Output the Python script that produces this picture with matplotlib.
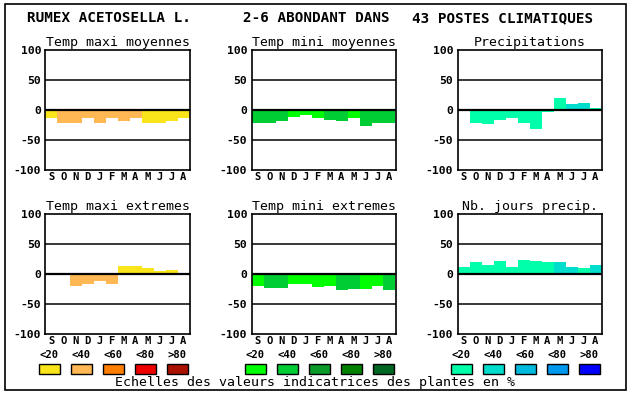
import matplotlib
matplotlib.use("Agg")
import matplotlib.pyplot as plt
from matplotlib.patches import Rectangle

W, H = 630, 394

months = ['S', 'O', 'N', 'D', 'J', 'F', 'M', 'A', 'M', 'J', 'J', 'A']
class_labels = ['<20', '<40', '<60', '<80', '>80']

warm = ['#FAE41A', '#FFB854', '#FF8000', '#EE0000', '#AA1100']
green = ['#00FF00', '#00CC33', '#0A9A2A', '#008000', '#006622']
blue = ['#00FFAA', '#00DDCC', '#00BBDD', '#0099EE', '#0000FF']

tmax_moy = [-14, -22, -22, -14, -21, -13, -18, -14, -21, -21, -18, -13]
tmax_moy_cls = [0, 1, 1, 1, 1, 1, 1, 1, 0, 0, 0, 0]
tmin_moy = [-22, -22, -18, -11, -8, -14, -16, -18, -14, -26, -22, -22]
tmin_moy_cls = [1, 1, 1, 0, 0, 0, 1, 1, 0, 1, 1, 1]
precip = [2, -22, -24, -17, -14, -22, -31, -4, 20, 10, 12, 4]
precip_cls = [0, 0, 0, 0, 0, 0, 0, 0, 0, 1, 1, 0]
tmax_ext = [0, -2, -20, -17, -12, -17, 14, 14, 10, 5, 7, 2]
tmax_ext_cls = [0, 0, 1, 1, 1, 1, 0, 0, 0, 0, 0, 0]
tmin_ext = [-20, -24, -24, -17, -17, -22, -20, -27, -25, -25, -20, -27]
tmin_ext_cls = [0, 1, 1, 0, 0, 0, 0, 1, 1, 0, 0, 1]
jours = [12, 20, 15, 22, 12, 24, 22, 20, 20, 12, 10, 15]
jours_cls = [0, 0, 0, 0, 0, 0, 0, 0, 1, 1, 0, 1]

panels = [
    ('Temp maxi moyennes', tmax_moy, tmax_moy_cls, warm, 45.5, 50),
    ('Temp mini moyennes', tmin_moy, tmin_moy_cls, green, 251.5, 50),
    ('Precipitations', precip, precip_cls, blue, 457.5, 50),
    ('Temp maxi extremes', tmax_ext, tmax_ext_cls, warm, 45.5, 214),
    ('Temp mini extremes', tmin_ext, tmin_ext_cls, green, 251.5, 214),
    ('Nb. jours precip.', jours, jours_cls, blue, 457.5, 214),
]

MONO = 'DejaVu Sans Mono'

fig = plt.figure(figsize=(W / 100, H / 100), dpi=100)


def fx(px):
    return px / W


def fy(py):
    return 1 - py / H


for title, vals, cls, pal, left, top in panels:
    ax = fig.add_axes([fx(left), fy(top + 120), 144 / W, 120 / H])
    x = range(len(vals))
    ax.bar(x, vals, width=1.0, color=[pal[c] for c in cls], zorder=2)
    ax.axhline(0, color='black', lw=1.6, zorder=3)
    for v in (50, -50):
        ax.axhline(v, color='black', lw=1.1, zorder=3)
    ax.set_xlim(-0.5, 11.5)
    ax.set_ylim(-100, 100)
    ax.set_yticks([100, 50, 0, -50, -100])
    ax.set_yticklabels(['100', '50', '0', '-50', '-100'], family=MONO,
                       fontweight='bold', fontsize=8.2)
    ax.set_xticks(list(x))
    ax.set_xticklabels(months, family=MONO, fontweight='bold', fontsize=7.6)
    ax.tick_params(axis='y', length=0, pad=3)
    ax.tick_params(axis='x', length=0, pad=1.5)
    for s in ax.spines.values():
        s.set_linewidth(1.2)
    ax.set_title(title, family=MONO, fontsize=9.5, pad=3)

# legend rows below bottom charts
for pal, left in ((warm, 39), (green, 245), (blue, 451)):
    for i, (c, lab) in enumerate(zip(pal, class_labels)):
        x0 = left + i * 32
        fig.patches.append(Rectangle((fx(x0), fy(373.5)), 20.5 / W, 9.5 / H,
                                     facecolor=c, edgecolor='black', lw=1,
                                     transform=fig.transFigure, figure=fig))
        fig.text(fx(x0 + 10), fy(355.5), lab, family=MONO, fontweight='bold',
                 fontsize=7.6, ha='center', va='center')

fig.text(fx(315), fy(382.5), 'Echelles des valeurs indicatrices des plantes en %',
         family=MONO, fontsize=9.5, ha='center', va='center')

# header
fig.text(fx(27), fy(18), 'RUMEX ACETOSELLA L.', family=MONO, fontweight='bold',
         fontsize=10.3, ha='left', va='center')
fig.text(fx(243), fy(18), '2-6 ABONDANT DANS', family=MONO, fontweight='bold',
         fontsize=10.3, ha='left', va='center')
fig.text(fx(412), fy(18), '43 POSTES CLIMATIQUES', family=MONO, fontweight='bold',
         fontsize=10.3, ha='left', va='center')

# outer frame
fig.patches.append(Rectangle((fx(5), fy(390)), 621 / W, 386 / H, fill=False,
                             edgecolor='black', lw=1.2,
                             transform=fig.transFigure, figure=fig))

fig.savefig('out.png', dpi=100)
